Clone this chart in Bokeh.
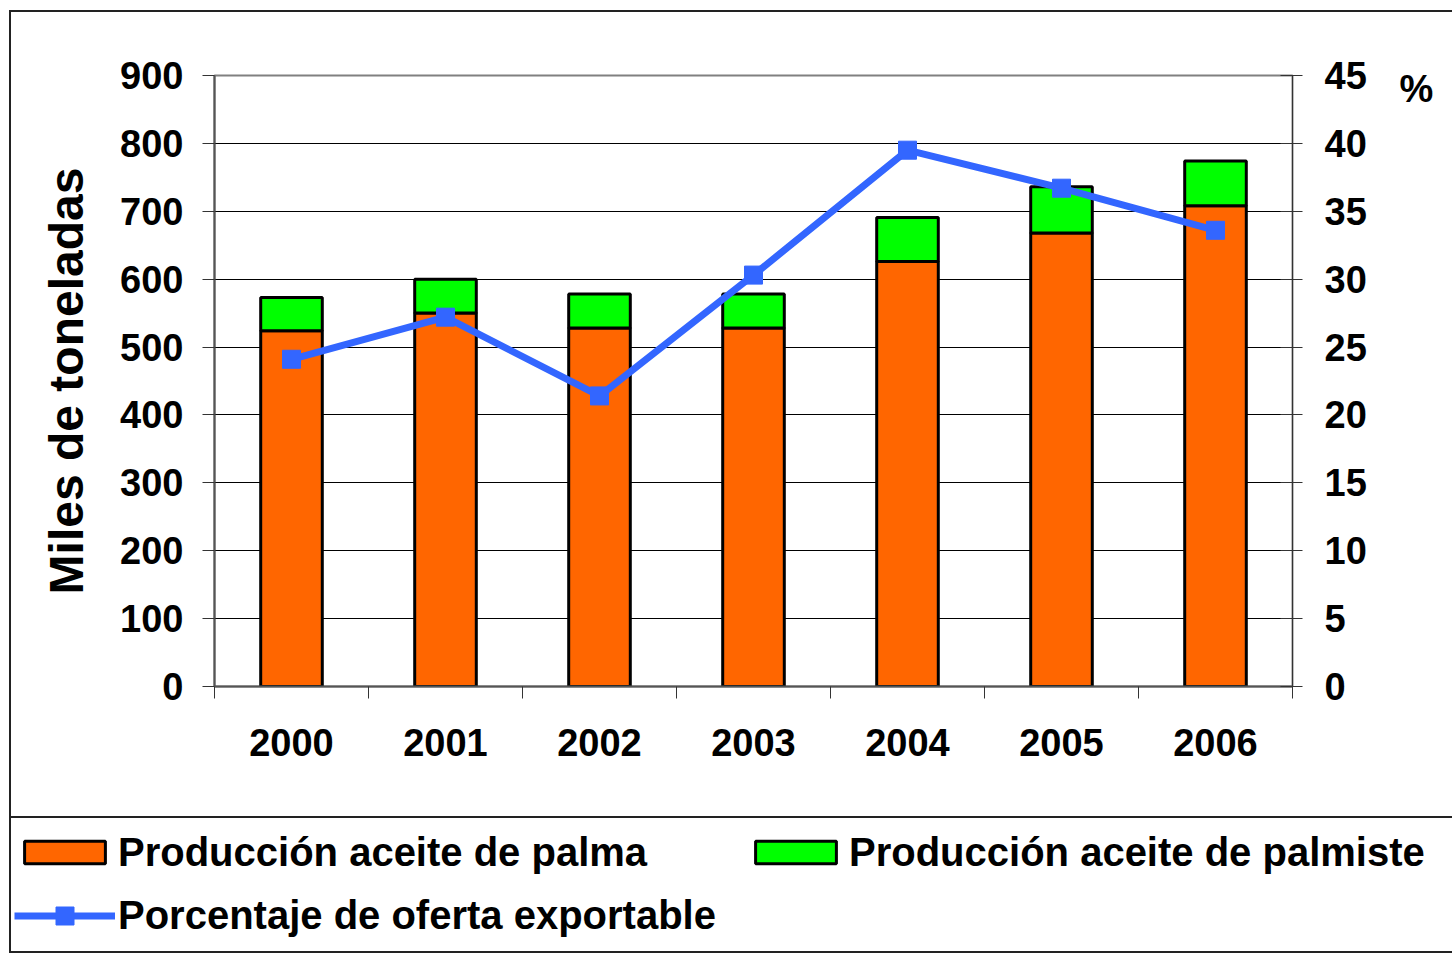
from bokeh.plotting import figure
from bokeh.models import (Range1d, LinearAxis, FixedTicker, ColumnDataSource,
                          Legend, LegendItem)
from bokeh.layouts import column
from bokeh.embed import file_html
from bokeh.resources import INLINE

# ---------------- data ----------------
years = ["2000", "2001", "2002", "2003", "2004", "2005", "2006"]
palma = [524, 550, 528, 528, 626, 668, 708]          # miles de toneladas
palmiste = [49, 50, 50, 50, 65, 68, 66]              # miles de toneladas
porcentaje = [24.1, 27.2, 21.4, 30.3, 39.5, 36.7, 33.6]  # %
left_ticks = [0, 100, 200, 300, 400, 500, 600, 700, 800, 900]
right_ticks = [0, 5, 10, 15, 20, 25, 30, 35, 40, 45]
unit_tick = 44  # where the "%" unit sits on the right scale

FONT = "Liberation Sans"
ORANGE = "#FF6600"
GREEN = "#00FF00"
BLUE = "#3366FF"
BORDER = "2px solid #222222"

n = len(years)
xs = [i + 0.5 for i in range(n)]
src = ColumnDataSource(dict(x=xs, palma=palma, palmiste=palmiste, pct=porcentaje))


def style_labels(ax, size="38px"):
    ax.major_label_text_font = FONT
    ax.major_label_text_font_size = size
    ax.major_label_text_font_style = "bold"
    ax.major_label_text_color = "black"


def no_align(fig):
    try:
        fig.frame_align = False
    except Exception:
        pass


p = figure(width=1443, height=808, x_range=Range1d(0, n), y_range=Range1d(0, 900),
           output_backend="svg", toolbar_location=None,
           min_border_left=203, min_border_right=162,
           min_border_top=63, min_border_bottom=134,
           styles={"margin-left": "9px", "margin-top": "10px",
                   "border-left": BORDER, "border-top": BORDER, "border-bottom": BORDER})
no_align(p)
p.extra_y_ranges = {"pct": Range1d(0, 45)}

p.outline_line_color = "#808080"
p.outline_line_width = 2
p.xgrid.visible = False
p.ygrid.ticker = FixedTicker(ticks=left_ticks)
p.ygrid.grid_line_color = "black"
p.ygrid.grid_line_width = 1

# left axis
ya = p.yaxis[0]
ya.ticker = FixedTicker(ticks=left_ticks)
ya.axis_line_color = "#555555"
ya.axis_line_width = 2
ya.major_tick_out = 12
ya.major_tick_in = 0
ya.minor_tick_out = 0
ya.minor_tick_in = 0
ya.major_tick_line_color = "#333333"
style_labels(ya)
ya.major_label_standoff = 19
ya.axis_label = "Miles de toneladas"
ya.axis_label_text_font = FONT
ya.axis_label_text_font_size = "48px"
ya.axis_label_text_font_style = "bold"
ya.axis_label_text_color = "black"
ya.axis_label_standoff = 24

# bottom axis: labels at centres, ticks at category boundaries
xa = p.xaxis[0]
xa.ticker = FixedTicker(ticks=xs, minor_ticks=list(range(n + 1)))
xa.major_label_overrides = {x: y for x, y in zip(xs, years)}
xa.major_tick_out = 0
xa.major_tick_in = 0
xa.minor_tick_out = 12
xa.minor_tick_in = 0
xa.minor_tick_line_color = "#333333"
xa.axis_line_color = "#555555"
xa.axis_line_width = 2
style_labels(xa)
xa.major_label_standoff = 30

# right axis (percent)
ra = LinearAxis(y_range_name="pct", ticker=FixedTicker(ticks=right_ticks))
ra.axis_line_color = "#333333"
ra.axis_line_width = 1
ra.major_tick_out = 10
ra.major_tick_in = 12
ra.minor_tick_out = 0
ra.minor_tick_in = 0
ra.major_tick_line_color = "#333333"
style_labels(ra)
ra.major_label_standoff = 22
p.add_layout(ra, "right")

# unit "%" shown at the top of the right scale
ua = LinearAxis(y_range_name="pct", ticker=FixedTicker(ticks=[unit_tick]))
ua.major_label_overrides = {unit_tick: "%"}
ua.axis_line_color = None
ua.major_tick_line_color = None
ua.minor_tick_line_color = None
ua.major_tick_out = 0
ua.major_tick_in = 0
style_labels(ua)
ua.major_label_standoff = 30
p.add_layout(ua, "right")

bars = p.vbar_stack(["palma", "palmiste"], x="x", width=0.4, source=src,
                    fill_color=[ORANGE, GREEN], line_color="black", line_width=3)
ln = p.line("x", "pct", source=src, y_range_name="pct", line_color=BLUE, line_width=7)
mk = p.scatter("x", "pct", source=src, y_range_name="pct", marker="square", size=18,
               fill_color=BLUE, line_color=BLUE)

# ---------------- legend panel ----------------
q = figure(width=1443, height=135, x_range=Range1d(0, 1), y_range=Range1d(0, 1),
           output_backend="svg", toolbar_location=None, min_border=0,
           x_axis_location=None, y_axis_location=None,
           styles={"margin-left": "9px", "border-left": BORDER, "border-bottom": BORDER})
no_align(q)
q.xgrid.visible = False
q.ygrid.visible = False
q.outline_line_color = None

# legend-only renderers, with a point outside the visible range
dummy = ColumnDataSource(dict(x=[-10], top=[-10], y=[-10]))
r1 = q.vbar(x="x", top="top", width=0.4, source=dummy, fill_color=ORANGE,
            line_color="black", line_width=3)
r2 = q.vbar(x="x", top="top", width=0.4, source=dummy, fill_color=GREEN,
            line_color="black", line_width=3)
r3 = q.line(x="x", y="y", source=dummy, line_color=BLUE, line_width=7)
r4 = q.scatter(x="x", y="y", source=dummy, marker="square", size=18,
               fill_color=BLUE, line_color=BLUE)

common = dict(border_line_color=None, background_fill_alpha=0,
              label_text_font=FONT, label_text_font_size="40px",
              label_text_font_style="bold", label_text_color="black",
              glyph_width=101, label_height=48, label_standoff=3,
              spacing=15, padding=0, margin=0, orientation="vertical")

leg_palma = Legend(items=[LegendItem(label="Producción aceite de palma", renderers=[r1])],
                   location=(3, 77), glyph_height=28, **common)
leg_palmiste = Legend(items=[LegendItem(label="Producción aceite de palmiste", renderers=[r2])],
                      location=(734, 77), glyph_height=28, **common)
leg_pct = Legend(items=[LegendItem(label="Porcentaje de oferta exportable", renderers=[r3, r4])],
                 location=(3, 14), glyph_height=45, **common)
q.add_layout(leg_palma, "center")
q.add_layout(leg_palmiste, "center")
q.add_layout(leg_pct, "center")

layout = column(p, q, spacing=0)
open("out.html", "w").write(file_html(layout, INLINE))
